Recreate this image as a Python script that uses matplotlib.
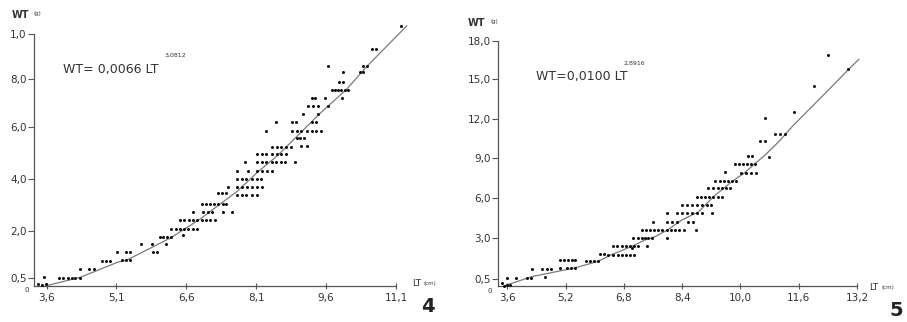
import numpy as np
import matplotlib.pyplot as plt

# ---- data (LT in cm, WT in g) ----
lt4 = [3.42, 3.50, 3.58,
       3.54, 3.87, 3.96, 4.05, 4.14, 4.22, 4.32,
       4.32, 4.52, 4.62,
       4.78, 4.87, 4.97,
       5.23, 5.30, 5.39,
       5.12, 5.30, 5.39, 5.88, 5.98,
       5.63, 5.86, 6.16,
       6.03, 6.10, 6.19, 6.28, 6.53,
       6.28, 6.37, 6.46, 6.56, 6.64, 6.75, 6.83,
       6.46, 6.56, 6.66, 6.75, 6.83, 6.93, 7.02, 7.11, 7.21,
       6.75, 6.96, 7.07, 7.16, 7.38, 7.59,
       6.93, 7.02, 7.11, 7.20, 7.29, 7.38, 7.46,
       7.27, 7.36, 7.46, 7.68, 7.79, 7.89, 8.00, 8.11,
       7.50, 7.69, 7.80, 7.91, 8.00, 8.11, 8.23,
       7.68, 7.79, 7.89, 8.00, 8.11, 8.20,
       7.68, 7.93, 8.11, 8.23, 8.34, 8.43,
       7.86, 8.11, 8.22, 8.32, 8.43, 8.52, 8.63, 8.72, 8.93,
       8.11, 8.22, 8.32, 8.43, 8.54, 8.64, 8.74,
       8.43, 8.54, 8.64, 8.74, 8.84, 9.07, 9.18,
       8.97, 9.05, 9.12,
       8.31, 8.86, 8.97, 9.07, 9.18, 9.29, 9.38, 9.48,
       8.52, 8.86, 8.95, 9.29, 9.38,
       9.11, 9.43,
       9.22, 9.32, 9.43, 9.63,
       9.29, 9.36, 9.58, 9.95,
       9.72, 9.79, 9.86, 9.93, 10.00, 10.07,
       9.88, 9.97,
       9.97, 10.33, 10.40,
       9.63, 10.40, 10.48,
       10.58, 10.68,
       11.20]
wt4 = [0.15, 0.05, 0.10,
       0.52, 0.50, 0.50, 0.50, 0.50, 0.50, 0.50,
       0.80, 0.80, 0.80,
       1.05, 1.05, 1.05,
       1.07, 1.07, 1.07,
       1.32, 1.32, 1.32, 1.32, 1.32,
       1.59, 1.59, 1.59,
       1.82, 1.82, 1.82, 1.82, 1.87,
       2.07, 2.07, 2.07, 2.07, 2.07, 2.07, 2.07,
       2.42, 2.42, 2.42, 2.42, 2.42, 2.42, 2.42, 2.42, 2.42,
       2.74, 2.74, 2.74, 2.74, 2.74, 2.74,
       3.03, 3.03, 3.03, 3.03, 3.03, 3.03, 3.03,
       3.45, 3.45, 3.45, 3.38, 3.38, 3.38, 3.38, 3.38,
       3.70, 3.70, 3.70, 3.70, 3.70, 3.70, 3.70,
       4.00, 4.00, 4.00, 4.00, 4.00, 4.00,
       4.31, 4.31, 4.31, 4.31, 4.31, 4.31,
       4.64, 4.64, 4.64, 4.64, 4.64, 4.64, 4.64, 4.64, 4.64,
       4.95, 4.95, 4.95, 4.95, 4.95, 4.95, 4.95,
       5.24, 5.24, 5.24, 5.24, 5.24, 5.27, 5.27,
       5.57, 5.57, 5.57,
       5.85, 5.85, 5.85, 5.85, 5.85, 5.85, 5.85, 5.85,
       6.20, 6.20, 6.20, 6.20, 6.20,
       6.53, 6.53,
       6.88, 6.88, 6.88, 6.88,
       7.22, 7.22, 7.22, 7.22,
       7.54, 7.54, 7.54, 7.54, 7.54, 7.54,
       7.89, 7.89,
       8.30, 8.30, 8.30,
       8.59, 8.59, 8.59,
       9.33, 9.33,
       10.37]

# fitted curve as drawn in fig. 4
curve4_lt = [3.60, 4.32, 5.12, 5.32, 6.25, 6.53, 6.89, 7.32, 7.68, 8.14,
             8.57, 9.04, 9.47, 10.04, 10.47, 11.33]
curve4_wt = [0.02, 0.52, 1.00, 1.07, 1.77, 2.04, 2.45, 3.03, 3.51, 4.28,
             4.92, 5.76, 6.57, 7.57, 8.55, 10.36]

lt5 = [3.44, 3.50, 3.58, 3.67,
       3.58, 3.85, 4.13, 4.25, 4.63,
       4.27, 4.54, 4.68, 4.80,
       5.04, 5.23, 5.35, 5.46,
       5.04, 5.15, 5.27, 5.38, 5.47,
       5.75, 5.87, 5.99, 6.10,
       6.14, 6.26,
       6.37, 6.51, 6.63, 6.74, 6.85, 6.97, 7.09,
       6.51, 6.62, 6.74, 6.86, 6.97, 7.09, 7.20, 7.43, 7.01,
       7.06, 7.18, 7.29, 7.38, 7.47, 7.56, 7.98,
       7.29, 7.41, 7.52, 7.64, 7.75, 7.86, 7.98, 8.10, 8.21, 8.32, 8.44, 8.78,
       7.59, 7.98, 8.11, 8.25, 8.57, 8.69,
       7.98, 8.25, 8.39, 8.53, 8.66, 8.80, 8.94, 9.21,
       8.39, 8.53, 8.66, 8.80, 8.94, 9.08, 9.20,
       8.80, 8.92, 9.03, 9.15, 9.26, 9.38, 9.49,
       9.12, 9.26, 9.38, 9.49, 9.61, 9.72,
       9.31, 9.44, 9.56, 9.67, 9.78, 9.87,
       9.58,
       9.84, 9.95, 10.07, 10.18, 10.30, 10.41,
       10.02, 10.16, 10.30, 10.42,
       10.20, 10.33, 10.79,
       10.54, 10.68,
       10.96, 11.09, 11.23,
       10.68, 11.46, 12.01, 12.95, 12.40]
wt5 = [0.22, 0.03, 0.08, 0.10,
       0.60, 0.60, 0.60, 0.60, 0.66,
       1.14, 1.14, 1.14, 1.14,
       1.20, 1.20, 1.20, 1.20,
       1.66, 1.66, 1.66, 1.66, 1.66,
       1.60, 1.60, 1.60, 1.60,
       2.04, 2.04,
       2.00, 2.00, 2.00, 2.00, 2.00, 2.00, 2.00,
       2.52, 2.52, 2.52, 2.52, 2.52, 2.52, 2.52, 2.52, 2.40,
       3.00, 3.00, 3.00, 3.00, 3.00, 3.00, 3.00,
       3.61, 3.61, 3.61, 3.61, 3.61, 3.61, 3.61, 3.61, 3.61, 3.61, 3.61, 3.61,
       4.20, 4.20, 4.20, 4.20, 4.20, 4.20,
       4.89, 4.89, 4.89, 4.89, 4.89, 4.89, 4.89, 4.89,
       5.46, 5.46, 5.46, 5.46, 5.46, 5.46, 5.46,
       6.08, 6.08, 6.08, 6.08, 6.08, 6.08, 6.08,
       6.71, 6.71, 6.71, 6.71, 6.71, 6.71,
       7.29, 7.29, 7.29, 7.29, 7.29, 7.29,
       7.93,
       8.57, 8.57, 8.57, 8.57, 8.57, 8.57,
       7.90, 7.90, 7.90, 7.90,
       9.17, 9.17, 9.12,
       10.34, 10.34,
       10.83, 10.83, 10.83,
       12.05, 12.55, 14.50, 15.78, 16.89]

curve5_lt = [3.53, 4.27, 5.46, 6.10, 6.46, 7.01, 7.38, 7.66, 8.02, 8.39,
             8.85, 9.26, 9.76, 10.09, 10.41, 10.68, 11.05, 11.46, 12.42,
             12.97, 13.25]
curve5_wt = [0.03, 0.66, 1.20, 1.60, 2.00, 2.50, 2.90, 3.12, 3.66, 4.35,
             4.96, 6.08, 7.22, 7.85, 8.62, 9.26, 10.26, 11.54, 14.20,
             15.78, 16.55]

yticks4 = [0.5, 2, 4, 6, 8, 10]
ylabels4 = ['0,5', '2,0', '4,0', '6,0', '8,0', '1,0']
xticks4 = [3.6, 5.1, 6.6, 8.1, 9.6, 11.1]
xlabels4 = ['3,6', '5,1', '6,6', '8,1', '9,6', '11,1']

yticks5 = [0.5, 3, 6, 9, 12, 15, 18]
ylabels5 = ['0,5', '3,0', '6,0', '9,0', '12,0', '15,0', '18,0']
xticks5 = [3.6, 5.2, 6.8, 8.4, 10.0, 11.6, 13.2]
xlabels5 = ['3,6', '5,2', '6,8', '8,4', '10,0', '11,6', '13,2']

W, H = 907, 322
INK = '#333333'


def broken_scale(vals, pos):
    # the printed y axes are piecewise linear (stretched near zero)
    v = np.asarray(vals, float)
    p = np.asarray(pos, float)
    s0 = (p[1] - p[0]) / (v[1] - v[0])
    s1 = (p[-1] - p[-2]) / (v[-1] - v[-2])
    v_ext = np.concatenate([[v[0] - 1000], v, [v[-1] + 1000]])
    p_ext = np.concatenate([[p[0] - 1000 * s0], p, [p[-1] + 1000 * s1]])
    fwd = lambda x: np.interp(x, v_ext, p_ext)
    inv = lambda y: np.interp(y, p_ext, v_ext)
    return fwd, inv


def fx(px):
    return px / W


def fy(py):
    return 1 - py / H


def draw_panel(ax, lt, wt, clt, cwt, xlim, ylim, scale, xt, xl, yt, yl):
    ax.set_yscale('function', functions=scale)
    ax.plot(clt, cwt, color='#7a7a7a', lw=0.9, clip_on=False, zorder=2)
    ax.plot(lt, wt, 'o', color='#111111', ms=2.2, mew=0, clip_on=False, zorder=3)
    ax.set_xlim(*xlim)
    ax.set_ylim(*ylim)
    ax.set_xticks(xt)
    ax.set_xticklabels(xl)
    ax.set_yticks(yt)
    ax.set_yticklabels(yl)
    ax.minorticks_off()
    for s in ['top', 'right']:
        ax.spines[s].set_visible(False)
    for s in ['left', 'bottom']:
        ax.spines[s].set_color('#555555')
        ax.spines[s].set_linewidth(0.9)
    ax.tick_params(axis='y', direction='out', length=4, width=0.8,
                   colors='#555555', labelcolor=INK, labelsize=7.5, pad=1)
    ax.tick_params(axis='x', direction='inout', length=4, width=0.8,
                   colors='#555555', labelcolor=INK, labelsize=7.5, pad=3)


fig = plt.figure(figsize=(W / 100, H / 100), dpi=100)

# fig. 4
ax4 = fig.add_axes([fx(33.5), fy(286), (396 - 33.5) / W, 252 / H])
draw_panel(ax4, lt4, wt4, curve4_lt, curve4_wt, (3.32, 11.1), (0, 10),
           broken_scale([0, 0.5, 2, 4, 6, 8, 10], [0, 8, 55, 107, 159, 207, 252]),
           xticks4, xlabels4, yticks4, ylabels4)

# fig. 5
ax5 = fig.add_axes([fx(497.5), fy(286), (857 - 497.5) / W, 245.3 / H])
draw_panel(ax5, lt5, wt5, curve5_lt, curve5_wt, (3.33, 13.2), (0, 18),
           broken_scale([0, 0.5, 3, 6, 9, 12, 15, 18],
                        [0, 6.7, 47.7, 88.3, 127.7, 167, 206.7, 245.3]),
           xticks5, xlabels5, yticks5, ylabels5)

# axis titles, origin zeros, equations, panel numbers
fig.text(fx(12), fy(15), 'WT', fontsize=7, weight='bold', color=INK, va='center')
fig.text(fx(33), fy(14), '(g)', fontsize=4, color=INK, va='center')
fig.text(fx(468), fy(23), 'WT', fontsize=7, weight='bold', color=INK, va='center')
fig.text(fx(490), fy(22), '(g)', fontsize=4, color=INK, va='center')

fig.text(fx(412), fy(283), 'LT', fontsize=6.5, color=INK, va='center')
fig.text(fx(424), fy(283), '(cm)', fontsize=4, color=INK, va='center')
fig.text(fx(869), fy(288), 'LT', fontsize=6.5, color=INK, va='center')
fig.text(fx(881), fy(288), '(cm)', fontsize=4, color=INK, va='center')

fig.text(fx(27), fy(290), '0', fontsize=5, color=INK, ha='center', va='center')
fig.text(fx(490), fy(291), '0', fontsize=5, color=INK, ha='center', va='center')

fig.text(fx(63), fy(70), 'WT= 0,0066 LT', fontsize=9, color=INK, va='center')
fig.text(fx(165), fy(55), '3,0812', fontsize=4.5, color=INK, va='center')
fig.text(fx(536), fy(77), 'WT=0,0100 LT', fontsize=9, color=INK, va='center')
fig.text(fx(624), fy(63), '2,8916', fontsize=4.5, color=INK, va='center')

fig.text(fx(428), fy(306), '4', fontsize=14, weight='bold', color='#222222',
         ha='center', va='center')
fig.text(fx(896), fy(310), '5', fontsize=14, weight='bold', color='#222222',
         ha='center', va='center')

fig.savefig('out.png', dpi=100)
